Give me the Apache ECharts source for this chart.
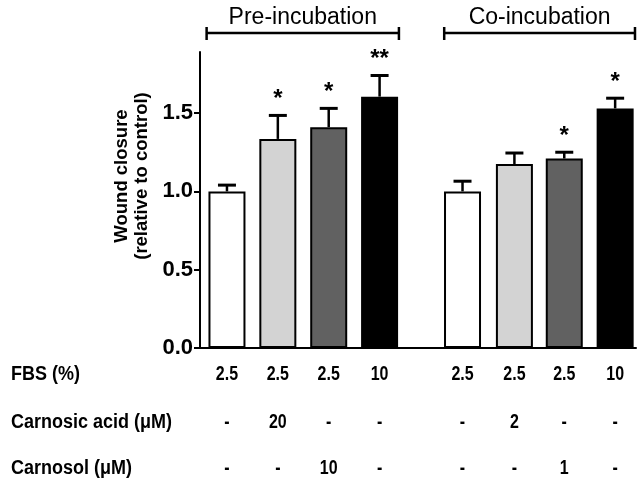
<!DOCTYPE html>
<html>
<head>
  <meta charset="utf-8">
  <title>Wound closure</title>
  <style>
    body {
      margin: 0;
      background: #fff;
    }

    #chart {
      width: 637px;
      height: 486px;
    }
  </style>
</head>
<body>
  <div id="chart"></div>
</body>
<script src="https://cdn.jsdelivr.net/npm/echarts@6/dist/echarts.min.js"></script>
<script>
  // bar positions on the x axis (two groups with a gap)
  var positions = [0, 1, 2, 3, 4.63, 5.65, 6.63, 7.63];
  var means = [1.0, 1.335, 1.41, 1.605, 1.0, 1.175, 1.21, 1.53];
  var errors = [0.04, 0.15, 0.12, 0.135, 0.065, 0.07, 0.04, 0.065];
  var stars = ['', '*', '*', '**', '', '', '*', '*'];
  var colors = ['#ffffff', '#d3d3d3', '#616161', '#000000', '#ffffff', '#d3d3d3', '#616161', '#000000'];
  var yTicks = [0, 0.5, 1.0, 1.5];

  var rowNames = ['FBS (%)', 'Carnosic acid (\u03bcM)', 'Carnosol (\u03bcM)'];
  var fbs = ['2.5', '2.5', '2.5', '10', '2.5', '2.5', '2.5', '10'];
  var carnosicAcid = ['-', '20', '-', '-', '-', '2', '-', '-'];
  var carnosol = ['-', '-', '10', '-', '-', '-', '1', '-'];

  var groups = [
    { name: 'Pre-incubation', start: -0.4, end: 3.38 },
    { name: 'Co-incubation', start: 4.27, end: 8.02 }
  ];

  var font = '"Liberation Sans", Arial, sans-serif';
  var chart = echarts.init(document.getElementById('chart'));

  var barData = positions.map(function (p, i) {
    return {
      value: [p, means[i]],
      itemStyle: { color: colors[i] }
    };
  });
  var errData = positions.map(function (p, i) {
    return [p, means[i], errors[i], i];
  });
  var tableData = positions.map(function (p, i) {
    return [p, i];
  });

  var option = {
    animation: false,
    grid: { left: 200, right: 1, top: 52, bottom: 138 },
    xAxis: {
      type: 'value',
      min: -0.53,
      max: 8.04,
      axisLine: { onZero: false, lineStyle: { color: '#000', width: 2 } },
      axisTick: { show: false },
      axisLabel: { show: false },
      splitLine: { show: false }
    },
    yAxis: {
      type: 'value',
      min: 0,
      max: 1.89,
      axisLine: { show: true, onZero: false, lineStyle: { color: '#000', width: 2 } },
      axisTick: { show: true, length: 6, lineStyle: { width: 2 }, customValues: yTicks },
      axisLabel: {
        customValues: yTicks,
        margin: 7,
        color: '#000',
        fontFamily: font,
        fontWeight: 'bold',
        fontSize: 22,
        formatter: function (v) { return v.toFixed(1); }
      },
      splitLine: { show: false }
    },
    graphic: [
      {
        type: 'text',
        x: 132,
        y: 176,
        rotation: Math.PI / 2,
        style: {
          text: 'Wound closure\n(relative to control)',
          align: 'center',
          verticalAlign: 'middle',
          lineHeight: 20,
          fill: '#000',
          font: 'bold 18.5px ' + font
        }
      }
    ].concat(rowNames.map(function (name, r) {
      return {
        type: 'text',
        x: 11,
        y: [374, 422, 468][r],
        scaleY: 1.17,
        style: {
          text: name,
          verticalAlign: 'middle',
          fill: '#000',
          font: 'bold 18px ' + font
        }
      };
    })),
    series: [
      {
        type: 'bar',
        data: barData,
        barWidth: 37,
        z: 3,
        itemStyle: { borderColor: '#000', borderWidth: 2 }
      },
      {
        type: 'custom',
        data: errData,
        z: 2,
        clip: false,
        renderItem: function (params, api) {
          var x = api.value(0);
          var m = api.value(1);
          var e = api.value(2);
          var p0 = api.coord([x, m]);
          var p1 = api.coord([x, m + e]);
          var children = [
            {
              type: 'line',
              shape: { x1: p0[0], y1: p0[1], x2: p1[0], y2: p1[1] },
              style: { stroke: '#000', lineWidth: 2.5 }
            },
            {
              type: 'line',
              shape: { x1: p1[0] - 9, y1: p1[1], x2: p1[0] + 9, y2: p1[1] },
              style: { stroke: '#000', lineWidth: 3 }
            }
          ];
          var s = stars[api.value(3)];
          if (s) {
            children.push({
              type: 'text',
              x: p1[0],
              y: p1[1] - 4,
              style: {
                text: s,
                align: 'center',
                verticalAlign: 'bottom',
                fill: '#000',
                font: 'bold 24px ' + font
              }
            });
          }
          return { type: 'group', children: children };
        }
      },
      {
        type: 'custom',
        data: tableData,
        clip: false,
        silent: true,
        renderItem: function (params, api) {
          var i = api.value(1);
          var p = api.coord([api.value(0), 0]);
          var rows = [fbs[i], carnosicAcid[i], carnosol[i]];
          return {
            type: 'group',
            children: rows.map(function (t, r) {
              return {
                type: 'text',
                x: p[0],
                y: p[1] + [26, 74, 120][r],
                scaleY: 1.25,
                style: {
                  text: t,
                  align: 'center',
                  verticalAlign: 'middle',
                  fill: '#000',
                  font: 'bold 16px ' + font
                }
              };
            })
          };
        }
      },
      {
        type: 'custom',
        data: groups.map(function (g) { return [g.start, g.end, g.name]; }),
        clip: false,
        silent: true,
        renderItem: function (params, api) {
          var a = api.coord([api.value(0), 0])[0];
          var b = api.coord([api.value(1), 0])[0];
          var y = 33;
          return {
            type: 'group',
            children: [
              { type: 'line', shape: { x1: a, y1: y, x2: b, y2: y }, style: { stroke: '#000', lineWidth: 2.5 } },
              { type: 'line', shape: { x1: a, y1: y - 6, x2: a, y2: y + 7 }, style: { stroke: '#000', lineWidth: 2.5 } },
              { type: 'line', shape: { x1: b, y1: y - 6, x2: b, y2: y + 7 }, style: { stroke: '#000', lineWidth: 2.5 } },
              {
                type: 'text',
                x: (a + b) / 2,
                y: 18,
                style: {
                  text: groups[params.dataIndex].name,
                  align: 'center',
                  verticalAlign: 'middle',
                  fill: '#000',
                  font: '23px ' + font
                }
              }
            ]
          };
        }
      }
    ]
  };
  chart.setOption(option);
</script>
</html>
